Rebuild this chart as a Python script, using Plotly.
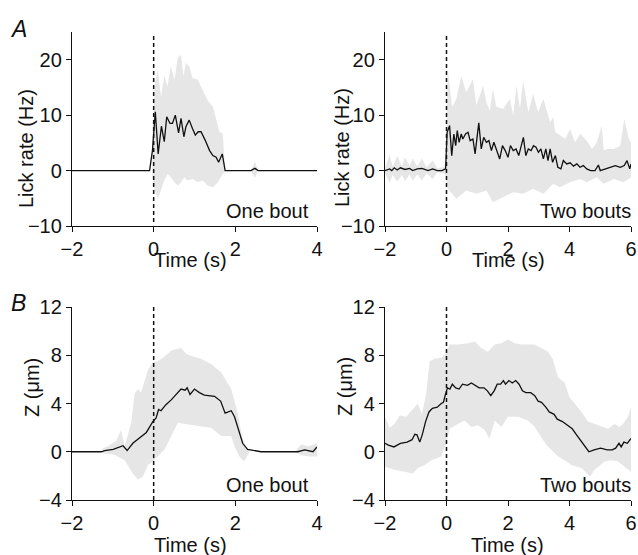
import plotly.graph_objects as go

W, H = 638, 555

# ---------------- Panel A1: lick rate, one bout ----------------
a1_t = [-2, -0.1, -0.03, 0.04, 0.11, 0.19, 0.26, 0.32, 0.40, 0.46, 0.53, 0.61, 0.67, 0.74, 0.79,
        0.87, 0.95, 1.02, 1.09, 1.16, 1.26, 1.37, 1.45, 1.53, 1.59, 1.64, 1.68, 1.75, 2.38, 2.48, 2.56, 4]
a1_mean = [0, 0, 3.6, 10.6, 3.0, 8.0, 5.2, 9.7, 8.5, 8.5, 10.0, 6.8, 9.4, 6.1, 7.9,
           9.1, 7.6, 6.4, 7.0, 7.0, 5.5, 3.6, 2.7, 2.4, 1.5, 2.4, 3.0, 0, 0, 0.4, 0, 0]
a1_up_t = [-0.03, 0.03, 0.10, 0.18, 0.26, 0.34, 0.42, 0.51, 0.59, 0.67, 0.73, 0.79, 0.87, 0.95,
           1.08, 1.20, 1.32, 1.45, 1.53, 1.61, 1.69, 1.75]
a1_up = [5.5, 15.8, 18.2, 13.3, 17.0, 15.2, 18.8, 16.4, 20.3, 20.9, 17.0, 19.4, 18.8, 16.7,
         16.4, 14.5, 12.7, 11.5, 9.1, 7.0, 6.7, 0.6]
a1_lo_t = [-0.03, 0.03, 0.10, 0.18, 0.26, 0.34, 0.42, 0.51, 0.59, 0.67, 0.75, 0.83, 0.95, 1.08,
           1.20, 1.32, 1.45, 1.57, 1.69, 1.75]
a1_lo = [-1.2, -3.6, -5.2, -3.6, -1.8, -0.6, -1.2, -2.1, -2.7, -2.1, -1.2, -1.8, -1.5, -2.1,
         -1.8, -2.7, -3.0, -2.1, -0.6, -0.1]
a1_bump_t = [2.38, 2.48, 2.56]
a1_bump_up = [0, 1.6, 0]
a1_bump_lo = [0, -1.3, 0]

# ---------------- Panel A2: lick rate, two bouts ----------------
a2_t = [-2, -1.85, -1.78, -1.7, -1.6, -1.5, -1.35, -1.2, -1.1, -0.95, -0.8, -0.6, -0.45, -0.3,
        -0.15, -0.08, -0.03, 0.02, 0.10, 0.17, 0.24, 0.30, 0.35, 0.41, 0.48, 0.53, 0.62, 0.70,
        0.77, 0.86, 0.93, 1.05, 1.13, 1.21, 1.30, 1.38, 1.46, 1.54, 1.62, 1.73, 1.82, 1.91,
        2.00, 2.08, 2.17, 2.26, 2.35, 2.42, 2.50, 2.58, 2.66, 2.75, 2.83, 2.91, 2.99, 3.07,
        3.15, 3.23, 3.30, 3.37, 3.45, 3.54, 3.62, 3.72, 3.80, 3.91, 4.02, 4.13, 4.24, 4.34,
        4.45, 4.56, 4.69, 4.83, 4.94, 5.00, 5.16, 5.32, 5.49, 5.65, 5.78, 5.87, 5.96, 6.0]
a2_mean = [0, 0.3, 0, 0.5, 0.1, 0.5, 0.2, 0.4, 0, 0.3, 0.4, 0, 0.3, 0,
           0, 0.1, 0.3, 6.9, 8.1, 2.7, 6.6, 4.5, 7.2, 5.1, 6.6, 5.7, 6.6, 6.9,
           5.4, 5.7, 3.0, 8.6, 3.9, 6.0, 5.1, 5.4, 3.6, 5.1, 3.9, 2.1, 4.5, 3.6,
           2.4, 4.5, 3.6, 3.9, 2.7, 4.5, 6.0, 2.7, 3.9, 3.6, 4.5, 4.2, 3.3, 3.9,
           2.1, 3.9, 1.8, 3.9, 1.5, 2.7, 0.6, 0.3, 1.8, 1.2, 1.4, 0.8, 1.2, 0.6,
           0.9, 0.3, 0, 0, 1.0, 0, 0.3, 0.6, 0.9, 0.6, 0.9, 1.8, 0.3, 1.2]
a2_up_t = [-2, -1.85, -1.75, -1.6, -1.45, -1.35, -1.2, -1.1, -0.95, -0.8, -0.65, -0.45, -0.3,
           -0.1, -0.02, 0.04, 0.18, 0.32, 0.48, 0.64, 0.86, 0.97, 1.08, 1.19, 1.30, 1.41, 1.51,
           1.62, 1.84, 2.06, 2.17, 2.28, 2.39, 2.49, 2.66, 2.82, 2.98, 3.15, 3.37, 3.47, 3.53,
           3.69, 3.86, 4.02, 4.18, 4.35, 4.56, 4.73, 4.89, 5.05, 5.11, 5.22, 5.44, 5.65, 5.78,
           5.93, 6.0]
a2_up = [0.5, 2.8, 0.8, 2.6, 0.8, 2.4, 0.9, 2.2, 0.8, 2.2, 0.6, 1.8, 0.4,
         0.6, 1.5, 18.3, 11.5, 12.9, 17.1, 14.1, 16.5, 11.8, 13.5, 15.3, 12.3, 10.8, 14.7,
         11.5, 11.1, 12.9, 10.0, 15.3, 11.1, 16.2, 10.5, 13.8, 10.5, 12.9, 8.7, 9.6, 7.0,
         6.3, 5.7, 7.5, 5.1, 6.6, 5.4, 3.9, 5.1, 8.1, 3.6, 3.9, 3.9, 4.5, 9.3,
         5.7, 5.1]
a2_lo_t = [-2, -1.85, -1.75, -1.6, -1.45, -1.35, -1.2, -1.1, -0.95, -0.8, -0.65, -0.45, -0.3,
           -0.1, -0.02, 0.04, 0.32, 0.64, 0.97, 1.30, 1.51, 1.84, 2.17, 2.49, 2.82, 3.15, 3.47,
           3.69, 4.02, 4.35, 4.56, 4.89, 5.11, 5.44, 5.76, 6.0]
a2_lo = [-0.5, -2.2, -0.8, -2.0, -0.8, -1.9, -0.7, -1.8, -0.7, -1.8, -0.5, -1.5, -0.3,
         -0.5, -1.0, -3.3, -5.1, -3.6, -4.2, -3.6, -5.7, -4.8, -3.9, -4.2, -3.3, -4.2, -2.4,
         -3.0, -2.1, -1.5, -2.1, -1.2, -2.4, -1.5, -2.1, -1.2]

# ---------------- Panel B1: Z, one bout ----------------
b1_t = [-2, -1.28, -1.2, -0.99, -0.75, -0.65, -0.51, -0.35, -0.18, -0.09, -0.02, 0.06, 0.12,
        0.18, 0.30, 0.43, 0.55, 0.67, 0.77, 0.82, 0.89, 1.00, 1.12, 1.24, 1.49, 1.64, 1.75,
        1.90, 1.98, 2.08, 2.18, 2.30, 2.47, 2.63, 3.53, 3.61, 3.70, 3.90, 4.0]
b1_mean = [0, 0, 0.1, 0.2, 0.5, 0.1, 0.7, 1.1, 1.6, 2.1, 2.5, 2.8, 3.5,
           3.4, 3.9, 4.3, 4.75, 5.2, 5.1, 5.3, 4.75, 5.2, 4.9, 4.7, 4.6, 4.2, 3.2,
           3.4, 2.9, 1.7, 0.7, 0.2, 0.1, 0, 0, 0.1, 0.15, 0, 0.4]
b1_up_t = [-1.25, -1.12, -0.92, -0.80, -0.71, -0.55, -0.47, -0.39, -0.31, -0.22, -0.14, -0.02,
           0.10, 0.27, 0.43, 0.67, 0.80, 0.96, 1.16, 1.41, 1.65, 1.90, 2.06, 2.16, 2.27, 2.35]
b1_up = [0.3, 0.45, 0.9, 1.8, 0.45, 2.4, 4.75, 5.2, 4.9, 6.0, 6.8, 7.4,
         7.5, 7.9, 8.4, 8.6, 8.1, 7.9, 7.7, 7.25, 6.6, 5.2, 3.2, 1.3, 0.3, 0]
b1_lo_t = [-1.25, -0.96, -0.71, -0.51, -0.39, -0.27, -0.14, -0.02, 0.10, 0.27, 0.43, 0.59,
           0.84, 1.16, 1.41, 1.65, 1.90, 1.98, 2.10, 2.21, 2.31, 2.35]
b1_lo = [-0.1, -0.25, -0.7, -1.8, -2.3, -2.1, -1.1, -0.8, -0.4, 0.2, 1.3, 2.4,
         2.25, 2.1, 2.0, 1.3, 1.3, 0.45, -0.4, -0.8, -0.25, 0]
b1_tail_t = [3.45, 3.61, 3.80, 4.0]
b1_tail_up = [0, 0.6, 0.45, 0.7]
b1_tail_lo = [0, -0.3, -0.4, -0.4]

# ---------------- Panel B2: Z, two bouts ----------------
b2_t = [-2, -1.89, -1.71, -1.50, -1.28, -1.12, -1.03, -0.96, -0.87, -0.79, -0.68, -0.57, -0.46,
        -0.30, -0.17, -0.10, -0.05, 0.03, 0.11, 0.19, 0.30, 0.41, 0.52, 0.68, 0.81, 0.95, 1.06,
        1.22, 1.33, 1.44, 1.55, 1.65, 1.76, 1.85, 1.92, 2.03, 2.14, 2.25, 2.36, 2.47, 2.58,
        2.74, 2.87, 2.98, 3.09, 3.23, 3.34, 3.50, 3.60, 3.77, 3.93, 4.09, 4.20, 4.36, 4.52,
        4.63, 4.80, 5.01, 5.23, 5.39, 5.50, 5.61, 5.68, 5.77, 5.88, 5.98, 6.0]
b2_mean = [0.7, 0.55, 0.4, 0.7, 0.8, 1.0, 1.45, 1.4, 0.8, 1.4, 2.5, 3.3, 3.6,
           3.7, 4.0, 4.1, 4.6, 5.3, 5.2, 5.6, 5.3, 5.2, 5.6, 5.5, 5.7, 5.5, 5.3,
           5.3, 5.05, 4.65, 5.05, 5.6, 5.6, 5.9, 5.6, 5.9, 5.7, 5.9, 5.6, 5.05, 4.9,
           4.9, 4.65, 4.2, 4.1, 3.7, 3.3, 3.1, 2.7, 2.5, 2.2, 1.9, 1.5, 0.95, 0.3,
           0, 0.15, 0.3, 0.15, 0.15, 0.3, 0.7, 0.4, 0.8, 0.7, 1.1, 1.1]
b2_up_t = [-2, -1.85, -1.69, -1.52, -1.31, -1.09, -0.93, -0.80, -0.66, -0.55, -0.38, -0.17,
           -0.01, 0.10, 0.37, 0.70, 0.92, 1.13, 1.35, 1.57, 1.78, 2.00, 2.22, 2.43, 2.65, 2.87,
           3.08, 3.30, 3.46, 3.63, 3.84, 4.00, 4.17, 4.39, 4.60, 4.82, 5.04, 5.25, 5.47, 5.63,
           5.74, 5.90, 6.0]
b2_up = [2.9, 2.0, 2.3, 3.0, 2.9, 3.55, 4.0, 3.1, 4.8, 7.5, 7.7, 7.8,
         8.2, 8.9, 8.9, 9.0, 9.15, 8.6, 8.3, 8.9, 9.0, 9.3, 9.0, 8.9, 8.9, 8.9,
         8.6, 8.3, 7.65, 6.15, 5.75, 4.5, 4.0, 3.3, 2.5, 2.3, 2.05, 1.9, 2.3, 2.05,
         2.3, 2.9, 3.7]
b2_lo_t = [-2, -1.69, -1.36, -1.09, -0.93, -0.71, -0.49, -0.17, -0.01, 0.10, 0.37, 0.59, 0.81,
           1.02, 1.24, 1.40, 1.57, 1.78, 2.00, 2.33, 2.65, 2.87, 3.08, 3.25, 3.41, 3.63, 3.84,
           4.06, 4.39, 4.66, 4.82, 5.14, 5.36, 5.58, 5.79, 6.0]
b2_lo = [-1.25, -1.5, -1.65, -1.8, -1.35, -1.1, -0.7, -0.4, 0.7, 1.9, 2.3, 2.6, 2.05,
         2.2, 1.8, 1.1, 2.6, 2.05, 2.9, 2.9, 2.6, 2.05, 1.2, 0.55, 0.15, -0.4, -0.7,
         -1.1, -1.35, -2.05, -1.5, -0.8, -0.7, -0.8, -1.25, -1.65]

# ---------------- Axis settings ----------------
a1_xticks = [-2, 0, 2, 4]
a2_xticks = [-2, 0, 2, 4, 6]
a_yticks = [-10, 0, 10, 20]
b_yticks = [-4, 0, 4, 8, 12]
a1_xrange = [-2, 4]
a2_xrange = [-2, 6]
a_yrange = [-10, 25]
b_yrange = [-4, 12]

FONT = "Liberation Sans, Arial, Helvetica, sans-serif"
BAND = "#e6e6e6"
FS = 20

fig = go.Figure()


def add_band(ax, t_up, up, t_lo, lo):
    fig.add_trace(go.Scatter(
        x=list(t_up) + list(t_lo)[::-1], y=list(up) + list(lo)[::-1],
        fill="toself", fillcolor=BAND, line=dict(width=0), mode="lines",
        hoverinfo="skip", showlegend=False, xaxis="x" + ax, yaxis="y" + ax))


def add_mean(ax, t, m):
    fig.add_trace(go.Scatter(
        x=t, y=m, mode="lines", line=dict(color="#111111", width=1.3),
        showlegend=False, xaxis="x" + ax, yaxis="y" + ax))


add_band("", a1_up_t, a1_up, a1_lo_t, a1_lo)
add_band("", a1_bump_t, a1_bump_up, a1_bump_t, a1_bump_lo)
add_mean("", a1_t, a1_mean)
add_band("2", a2_up_t, a2_up, a2_lo_t, a2_lo)
add_mean("2", a2_t, a2_mean)
add_band("3", b1_up_t, b1_up, b1_lo_t, b1_lo)
add_band("3", b1_tail_t, b1_tail_up, b1_tail_t, b1_tail_lo)
add_mean("3", b1_t, b1_mean)
add_band("4", b2_up_t, b2_up, b2_lo_t, b2_lo)
add_mean("4", b2_t, b2_mean)

xd_left = [72 / W, 317 / W]
xd_right = [385 / W, 631 / W]
yd_top = [1 - 226 / H, 1 - 32 / H]
yd_bot = [1 - 500 / H, 1 - 307 / H]

common = dict(showline=True, linecolor="#111111", linewidth=1.3, ticks="outside",
              ticklen=5, tickwidth=1.3, tickcolor="#111111", showgrid=False,
              zeroline=False, automargin=False,
              tickfont=dict(family=FONT, size=FS, color="#111111"),
              mirror=False)

layout = dict(
    template="none",
    width=W, height=H, margin=dict(l=0, r=0, t=0, b=0, pad=0, autoexpand=False),
    paper_bgcolor="white", plot_bgcolor="white", showlegend=False,
    xaxis=dict(domain=xd_left, anchor="y", range=a1_xrange, tickvals=a1_xticks, **common),
    yaxis=dict(domain=yd_top, anchor="x", range=a_yrange, tickvals=a_yticks, **common),
    xaxis2=dict(domain=xd_right, anchor="y2", range=a2_xrange, tickvals=a2_xticks, **common),
    yaxis2=dict(domain=yd_top, anchor="x2", range=a_yrange, tickvals=a_yticks, **common),
    xaxis3=dict(domain=xd_left, anchor="y3", range=a1_xrange, tickvals=a1_xticks, **common),
    yaxis3=dict(domain=yd_bot, anchor="x3", range=b_yrange, tickvals=b_yticks, **common),
    xaxis4=dict(domain=xd_right, anchor="y4", range=a2_xrange, tickvals=a2_xticks, **common),
    yaxis4=dict(domain=yd_bot, anchor="x4", range=b_yrange, tickvals=b_yticks, **common),
)
fig.update_layout(**layout)

# dashed stimulus lines at t = 0
shapes = []
for xr, y0, y1 in [("x", 222, 33), ("x2", 222, 33), ("x3", 500, 305), ("x4", 500, 305)]:
    shapes.append(dict(type="line", xref=xr, yref="paper", x0=0, x1=0,
                       y0=1 - y0 / H, y1=1 - y1 / H,
                       line=dict(color="#111111", width=1.5, dash="4px,3px")))
fig.update_layout(shapes=shapes)

ann = []


def txt(text, x, y, size=FS, angle=0, xanchor="center", italic=False):
    ann.append(dict(text=text, x=x / W, y=1 - y / H, xref="paper", yref="paper",
                    showarrow=False, textangle=angle, xanchor=xanchor, yanchor="middle",
                    font=dict(family=FONT, size=size, color="#111111",
                              style="italic" if italic else "normal")))


txt("A", 18, 29, size=23, italic=True)
txt("B", 18, 303, size=23, italic=True)
txt("Lick rate (Hz)", 26, 149, angle=-90)
txt("Lick rate (Hz)", 342, 148, angle=-90)
txt("Z (μm)", 32, 388, angle=-90)
txt("Z (μm)", 345, 387, angle=-90)
txt("Time (s)", 190, 260)
txt("Time (s)", 508, 260)
txt("Time (s)", 190, 545)
txt("Time (s)", 507, 545)
txt("One bout", 311, 211, xanchor="right")
txt("Two bouts", 633, 211, xanchor="right")
txt("One bout", 311, 485, xanchor="right")
txt("Two bouts", 633, 485, xanchor="right")
fig.update_layout(annotations=ann)

fig.write_html("out.html", config={"displayModeBar": False},
               post_script="document.body.style.margin='0px';document.body.style.overflow='hidden';")
